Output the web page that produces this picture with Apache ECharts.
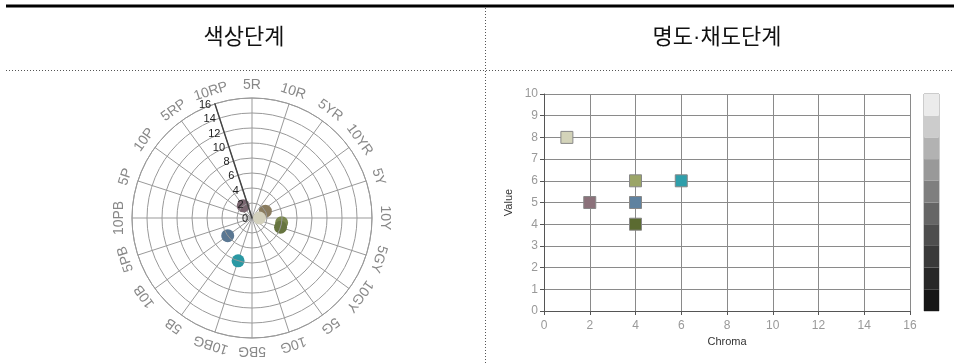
<!DOCTYPE html>
<html>
<head>
<meta charset="utf-8">
<script src="https://cdn.jsdelivr.net/npm/echarts@6/dist/echarts.min.js"></script>
<style>
  html, body { margin: 0; padding: 0; background: #fff; }
  #chart { width: 960px; height: 364px; }
</style>
</head>
<body>
<div id="chart"></div>
<script>
// hue circle ticks (Munsell 100-step hue scale)
const hueNames = ['5R', '10R', '5YR', '10YR', '5Y', '10Y', '5GY', '10GY', '5G', '10G',
  '5BG', '10BG', '5B', '10B', '5PB', '10PB', '5P', '10P', '5RP', '10RP'];
const hueSteps = [5, 10, 15, 20, 25, 30, 35, 40, 45, 50, 55, 60, 65, 70, 75, 80, 85, 90, 95, 100];

// 색상단계 points
const polarHue = [22.5, 30, 95, 32.5, 35, 70, 60];
const polarChroma = [2, 1, 2, 4, 4, 4, 6];
const polarColors = ['#8a7c5f', '#d3d1bd', '#7a6670', '#7a874e', '#66743f', '#5a7792', '#2a98a3'];

// 명도·채도단계 points
const chroma = [1, 2, 4, 4, 4, 6];
const value = [8, 5, 6, 5, 4, 6];
const squareColors = ['#d3d3b9', '#8b717a', '#9ba567', '#5f82a0', '#5b6b31', '#2f9fab'];

// value scale, dark to light
const grays = ['#161616', '#282828', '#3a3a3a', '#4e4e4e', '#666666', '#7f7f7f', '#999999', '#b2b2b2', '#cccccc', '#ebebeb'];

const FONT = '"Liberation Sans", Arial, sans-serif';
const TITLE_FONT = '"Liberation Sans", "Noto Sans CJK KR", sans-serif';
const chart = echarts.init(document.getElementById('chart'));

chart.setOption({
  animation: false,
  graphic: [
    { type: 'line', shape: { x1: 6, y1: 6, x2: 954, y2: 6 }, style: { stroke: '#000', lineWidth: 3 } },
    { type: 'line', shape: { x1: 6, y1: 70.5, x2: 954, y2: 70.5 }, style: { stroke: '#555', lineWidth: 1, lineDash: [1, 2] } },
    { type: 'line', shape: { x1: 485.5, y1: 8, x2: 485.5, y2: 364 }, style: { stroke: '#555', lineWidth: 1, lineDash: [1, 2] } },
    { type: 'text', x: 244, y: 38, style: { text: '색상단계', fontSize: 22, fontFamily: TITLE_FONT, fill: '#111', align: 'center', verticalAlign: 'middle' } },
    { type: 'text', x: 717, y: 38, style: { text: '명도·채도단계', fontSize: 22, fontFamily: TITLE_FONT, fill: '#111', align: 'center', verticalAlign: 'middle' } }
  ],
  polar: { center: [252, 218], radius: 120 },
  angleAxis: {
    type: 'value',
    min: 0,
    max: 100,
    interval: 5,
    startAngle: 108,
    clockwise: true,
    axisLine: { lineStyle: { color: '#999', width: 1 } },
    axisTick: { show: false },
    axisLabel: { show: false },
    splitLine: { show: true, lineStyle: { color: '#999', width: 1 } }
  },
  radiusAxis: {
    min: 0,
    max: 16,
    interval: 2,
    z: 10,
    axisLine: { lineStyle: { color: '#444', width: 1.5 } },
    axisTick: { show: false },
    axisLabel: { color: '#222', fontSize: 11, fontFamily: FONT, margin: 4 },
    splitLine: { show: true, lineStyle: { color: '#999', width: 1 } }
  },
  grid: [
    { left: 544, right: 50, top: 94, bottom: 53 },
    { left: 924, width: 15, top: 94, height: 217, show: true, borderColor: '#999', borderWidth: 1 }
  ],
  xAxis: [
    {
      gridIndex: 0,
      type: 'value',
      min: 0,
      max: 16,
      interval: 2,
      name: 'Chroma',
      nameLocation: 'middle',
      nameGap: 24,
      nameTextStyle: { color: '#333', fontSize: 11, fontFamily: FONT },
      axisLine: { lineStyle: { color: '#555' } },
      axisTick: { show: true, length: 4, lineStyle: { color: '#555' } },
      axisLabel: { color: '#999', fontSize: 12, fontFamily: FONT, margin: 9 },
      splitLine: { show: true, lineStyle: { color: '#8a8a8a' } }
    },
    { gridIndex: 1, type: 'category', data: ['v'], show: false }
  ],
  yAxis: [
    {
      gridIndex: 0,
      type: 'value',
      min: 0,
      max: 10,
      interval: 1,
      name: 'Value',
      nameLocation: 'middle',
      nameGap: 30,
      nameRotate: 90,
      nameTextStyle: { color: '#333', fontSize: 11, fontFamily: FONT },
      axisLine: { show: true, lineStyle: { color: '#555' } },
      axisTick: { show: true, length: 4, lineStyle: { color: '#555' } },
      axisLabel: { color: '#999', fontSize: 12, fontFamily: FONT, margin: 6 },
      splitLine: { show: true, lineStyle: { color: '#8a8a8a' } }
    },
    { gridIndex: 1, type: 'value', min: 0, max: 10, show: false }
  ],
  series: [
    {
      // hue names, turned along the circle
      type: 'custom',
      coordinateSystem: 'polar',
      silent: true,
      data: hueSteps.map(h => [16, h]),
      renderItem: (params, api) => {
        const h = api.value(1);
        const c0 = api.coord([0, h]);
        const c1 = api.coord([16, h]);
        const dx = c1[0] - c0[0];
        const dy = c1[1] - c0[1];
        const len = Math.sqrt(dx * dx + dy * dy);
        return {
          type: 'text',
          x: c1[0] + dx / len * 13,
          y: c1[1] + dy / len * 13,
          rotation: -Math.atan2(dx, -dy),
          style: {
            text: hueNames[params.dataIndex],
            fill: '#888',
            fontSize: 14,
            fontFamily: FONT,
            align: 'center',
            verticalAlign: 'middle'
          }
        };
      }
    },
    {
      type: 'scatter',
      coordinateSystem: 'polar',
      symbolSize: 13,
      data: polarHue.map((h, i) => ({ value: [polarChroma[i], h], itemStyle: { color: polarColors[i], opacity: 1 } }))
    },
    {
      type: 'scatter',
      xAxisIndex: 0,
      yAxisIndex: 0,
      symbol: 'rect',
      symbolSize: 12,
      data: chroma.map((c, i) => ({
        value: [c, value[i]],
        itemStyle: { color: squareColors[i], borderColor: '#888', borderWidth: 1, opacity: 1 }
      }))
    }
  ].concat(grays.map(c => ({
    type: 'bar',
    xAxisIndex: 1,
    yAxisIndex: 1,
    stack: 'grays',
    barWidth: '100%',
    silent: true,
    itemStyle: { color: c },
    data: [1]
  })))
});
</script>
</body>
</html>
